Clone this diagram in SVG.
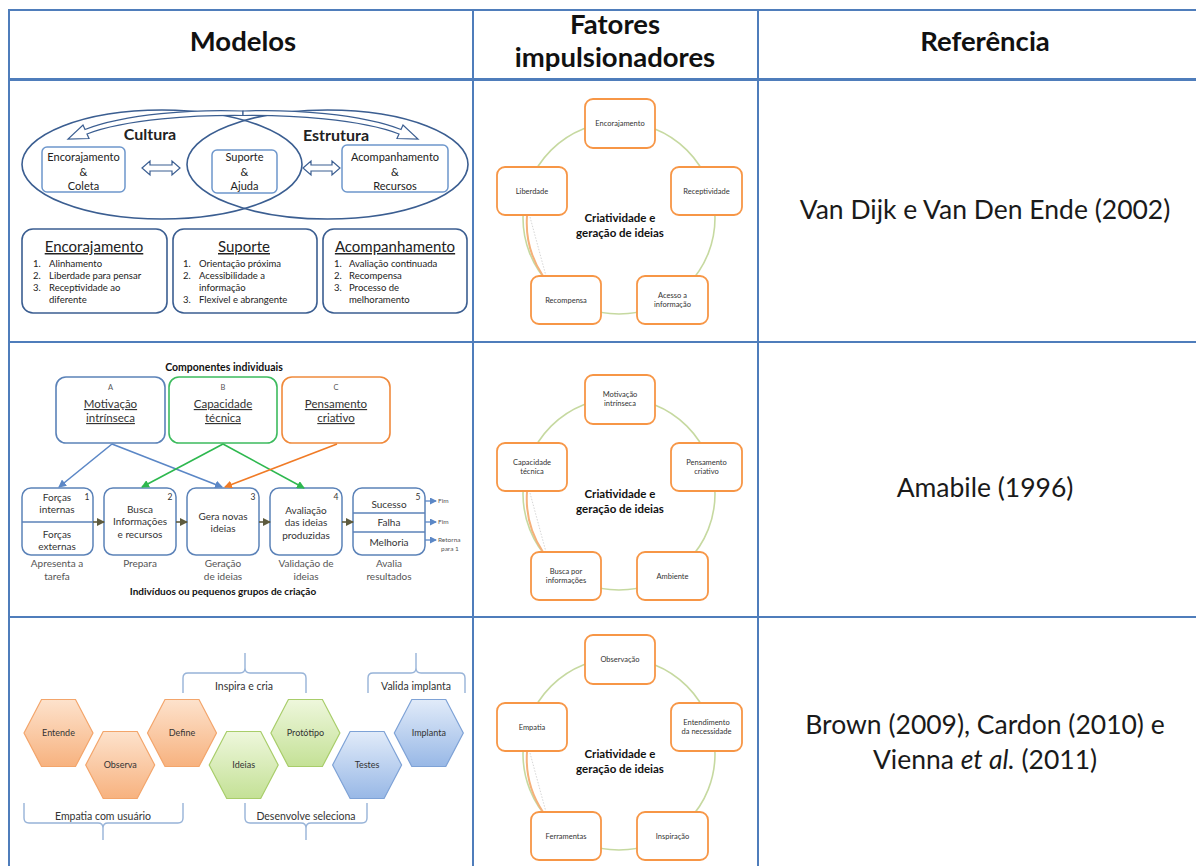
<svg xmlns="http://www.w3.org/2000/svg" width="1196" height="866" viewBox="0 0 1196 866">
  <defs>
    <style>
      text { font-family: Lato, "Liberation Sans", sans-serif; fill: #222; }
      .hdr { font-size: 27.5px; font-weight: bold; text-anchor: middle; fill: #111; }
      .ref { font-size: 26.5px; text-anchor: middle; fill: #1a1a1a; }
      .grid { stroke: #4f7dbb; stroke-width: 2; fill: none; }
      .ell { fill: none; stroke: #3b5e91; stroke-width: 1.6; }
      .sbox { fill: #fff; stroke: #6e97cc; stroke-width: 1.5; }
      .bbox { fill: #fff; stroke: #3b5e91; stroke-width: 1.6; }
      .blk { fill: #fff; stroke: #3b5e91; stroke-width: 1.2; }
      .t11 { font-size: 11px; text-anchor: middle; }
      .ttl { font-size: 15px; text-anchor: middle; text-decoration: underline; }
      .itm { font-size: 9.5px; }
      .fbox { fill: #fff; stroke: #f79646; stroke-width: 1.8; }
      .ring { fill: none; stroke: #c6d9a0; stroke-width: 1.6; }
      .ringo { fill: none; stroke: #f5b07a; stroke-width: 2; }
      .flab { font-size: 7.5px; text-anchor: middle; fill: #333; }
      .fcen { font-size: 11.5px; font-weight: bold; text-anchor: middle; fill: #111; }
      .cA { fill: #fff; stroke: #5b82b8; stroke-width: 1.6; }
      .cB { fill: #fff; stroke: #3dbb5e; stroke-width: 1.6; }
      .cC { fill: #fff; stroke: #f08a3c; stroke-width: 1.6; }
      .pbox { fill: #fff; stroke: #5b82b8; stroke-width: 1.5; }
      .div { stroke: #5b82b8; stroke-width: 1.5; }
      .ctl { font-size: 11.5px; text-anchor: middle; text-decoration: underline; fill: #333; }
      .let { font-size: 7.5px; text-anchor: middle; fill: #555; }
      .num { font-size: 8.5px; text-anchor: middle; fill: #333; }
      .pt { font-size: 10px; text-anchor: middle; fill: #333; }
      .cap { font-size: 10px; text-anchor: middle; fill: #555; }
      .out { font-size: 6.5px; fill: #555; }
      .bold { font-weight: bold; fill: #111; }
      .hexO { fill: url(#gO); stroke: #f3a56b; stroke-width: 1.2; }
      .hexG { fill: url(#gG); stroke: #a8cd6a; stroke-width: 1.2; }
      .hexB { fill: url(#gB); stroke: #7ea2d6; stroke-width: 1.2; }
      .hl { font-size: 9px; text-anchor: middle; fill: #333; }
      .brace { fill: none; stroke: #97b3d8; stroke-width: 1.4; }
      .bl { font-size: 10.5px; text-anchor: middle; fill: #333; }
    </style>
    <linearGradient id="gO" x1="0" y1="0" x2="0" y2="1">
      <stop offset="0" stop-color="#fde2cc"/>
      <stop offset="1" stop-color="#f7b27f"/>
    </linearGradient>
    <linearGradient id="gG" x1="0" y1="0" x2="0" y2="1">
      <stop offset="0" stop-color="#eef7dc"/>
      <stop offset="1" stop-color="#c4e196"/>
    </linearGradient>
    <linearGradient id="gB" x1="0" y1="0" x2="0" y2="1">
      <stop offset="0" stop-color="#e1ebf9"/>
      <stop offset="1" stop-color="#98b8e6"/>
    </linearGradient>
    <marker id="mBlue" markerWidth="8" markerHeight="8" refX="7" refY="4" orient="auto" markerUnits="userSpaceOnUse">
      <path d="M0,0 L8,4 L0,8 Z" fill="#5b87c6"/>
    </marker>
    <marker id="mGreen" markerWidth="8" markerHeight="8" refX="7" refY="4" orient="auto" markerUnits="userSpaceOnUse">
      <path d="M0,0 L8,4 L0,8 Z" fill="#2eb84f"/>
    </marker>
    <marker id="mOrange" markerWidth="8" markerHeight="8" refX="7" refY="4" orient="auto" markerUnits="userSpaceOnUse">
      <path d="M0,0 L8,4 L0,8 Z" fill="#f07b26"/>
    </marker>
    <marker id="mOlive" markerWidth="8" markerHeight="8" refX="7" refY="4" orient="auto" markerUnits="userSpaceOnUse">
      <path d="M0,0 L8,4 L0,8 Z" fill="#5e5b3e"/>
    </marker>
    <marker id="mSmall" markerWidth="7" markerHeight="7" refX="6" refY="3.5" orient="auto" markerUnits="userSpaceOnUse">
      <path d="M0,0 L7,3.5 L0,7 Z" fill="#5b87c6"/>
    </marker>
    <!-- the five-box ring used in the middle column -->
    <g id="ringBase">
      <circle class="ring" cx="619" cy="218" r="96"/>
      <path class="ringo" d="M527,216 A96,96 0 0 0 543,276"/>
      <line x1="530" y1="217" x2="546" y2="276" stroke="#bbb" stroke-width="0.6" stroke-dasharray="1.5,1.5"/>
      <rect class="fbox" x="585" y="99" width="70" height="49" rx="8"/>
      <rect class="fbox" x="671" y="167" width="71" height="48" rx="8"/>
      <rect class="fbox" x="637" y="276" width="71" height="48" rx="8"/>
      <rect class="fbox" x="531" y="276" width="70" height="48" rx="8"/>
      <rect class="fbox" x="497" y="167" width="70" height="48" rx="8"/>
      <text class="fcen" x="620" y="222">Criatividade e</text>
      <text class="fcen" x="620" y="237">geração de ideias</text>
    </g>
  </defs>

  <rect width="1196" height="866" fill="#fff"/>

  <!-- table grid -->
  <g id="table">
    <line class="grid" x1="9" y1="10" x2="1196" y2="10"/>
    <line class="grid" x1="9" y1="9" x2="9" y2="866"/>
    <line class="grid" x1="473" y1="10" x2="473" y2="866"/>
    <line class="grid" x1="758" y1="10" x2="758" y2="866"/>
    <line x1="9" y1="79.5" x2="1196" y2="79.5" stroke="#4f7dbb" stroke-width="3"/>
    <line class="grid" x1="9" y1="342" x2="1196" y2="342"/>
    <line class="grid" x1="9" y1="617" x2="1196" y2="617"/>
  </g>

  <!-- column headers -->
  <g id="headers">
    <text class="hdr" x="243" y="51">Modelos</text>
    <text class="hdr" x="615" y="34">Fatores</text>
    <text class="hdr" x="615" y="67">impulsionadores</text>
    <text class="hdr" x="985" y="51">Referência</text>
  </g>

  <!-- references -->
  <g id="references">
    <text class="ref" x="985" y="219">Van Dijk e Van Den Ende (2002)</text>
    <text class="ref" x="985" y="497">Amabile (1996)</text>
    <text class="ref" x="985" y="734">Brown (2009), Cardon (2010) e</text>
    <text class="ref" x="985" y="769">Vienna <tspan font-style="italic">et al.</tspan> (2011)</text>
  </g>

  <!-- ===== Row 1: culture / structure model ===== -->
  <g id="model-cultura">
    <ellipse class="ell" cx="162" cy="164.5" rx="140" ry="54.5"/>
    <ellipse class="ell" cx="327.5" cy="164.5" rx="140.5" ry="54.5"/>
    <path class="blk" d="M243,111 C195,109 125,114 85,129.5 L83,125 L68,139 L89,138.5 L87,134 C126,119 196,115 243,115.5 Z"/>
    <path class="blk" d="M243,111 C291,109 361,114 401,129.5 L403,125 L418,139 L397,138.5 L399,134 C360,119 290,115 243,115.5 Z"/>
    <text x="150" y="140" font-size="16" font-weight="bold" text-anchor="middle" fill="#111">Cultura</text>
    <text x="336" y="141" font-size="16" font-weight="bold" text-anchor="middle" fill="#111">Estrutura</text>
    <path class="blk" d="M142,168 L150,161 L150,165 L172,165 L172,161 L180,168 L172,175 L172,171 L150,171 L150,175 Z"/>
    <path class="blk" d="M303,168 L311,161 L311,165 L332,165 L332,161 L340,168 L332,175 L332,171 L311,171 L311,175 Z"/>
  </g>
  <g id="box-encorajamento-coleta">
    <rect class="sbox" x="42" y="147" width="83" height="45" rx="5"/>
    <text class="t11" x="83.5" y="161">Encorajamento</text>
    <text class="t11" x="83.5" y="176">&amp;</text>
    <text class="t11" x="83.5" y="190">Coleta</text>
  </g>
  <g id="box-suporte-ajuda">
    <rect class="sbox" x="212" y="150" width="65" height="43" rx="5"/>
    <text class="t11" x="244.5" y="161">Suporte</text>
    <text class="t11" x="244.5" y="176">&amp;</text>
    <text class="t11" x="244.5" y="190">Ajuda</text>
  </g>
  <g id="box-acompanhamento-recursos">
    <rect class="sbox" x="342" y="145" width="106" height="47" rx="5"/>
    <text class="t11" x="395" y="161">Acompanhamento</text>
    <text class="t11" x="395" y="176">&amp;</text>
    <text class="t11" x="395" y="190">Recursos</text>
  </g>
  <g id="list-encorajamento">
    <rect class="bbox" x="22" y="229" width="145" height="84" rx="11"/>
    <text class="ttl" x="94" y="252">Encorajamento</text>
    <text class="itm" x="33" y="266.5">1.</text><text class="itm" x="49" y="266.5">Alinhamento</text>
    <text class="itm" x="33" y="278.5">2.</text><text class="itm" x="49" y="278.5">Liberdade para pensar</text>
    <text class="itm" x="33" y="290.5">3.</text><text class="itm" x="49" y="290.5">Receptividade ao</text>
    <text class="itm" x="49" y="303">diferente</text>
  </g>
  <g id="list-suporte">
    <rect class="bbox" x="173" y="229" width="144" height="84" rx="11"/>
    <text class="ttl" x="244" y="252">Suporte</text>
    <text class="itm" x="183" y="266.5">1.</text><text class="itm" x="199" y="266.5">Orientação próxima</text>
    <text class="itm" x="183" y="278.5">2.</text><text class="itm" x="199" y="278.5">Acessibilidade a</text>
    <text class="itm" x="199" y="290.5">informação</text>
    <text class="itm" x="183" y="303">3.</text><text class="itm" x="199" y="303">Flexível e abrangente</text>
  </g>
  <g id="list-acompanhamento">
    <rect class="bbox" x="323" y="229" width="144" height="84" rx="11"/>
    <text class="ttl" x="395" y="252">Acompanhamento</text>
    <text class="itm" x="334" y="266.5">1.</text><text class="itm" x="349" y="266.5">Avaliação continuada</text>
    <text class="itm" x="334" y="278.5">2.</text><text class="itm" x="349" y="278.5">Recompensa</text>
    <text class="itm" x="334" y="290.5">3.</text><text class="itm" x="349" y="290.5">Processo de</text>
    <text class="itm" x="349" y="303">melhoramento</text>
  </g>

  <!-- ===== Middle column rings ===== -->
  <g id="ring-1">
    <use href="#ringBase"/>
    <text class="flab" x="620" y="126">Encorajamento</text>
    <text class="flab" x="706.5" y="194">Receptividade</text>
    <text class="flab" x="672.5" y="298">Acesso a</text>
    <text class="flab" x="672.5" y="307">informação</text>
    <text class="flab" x="566" y="303">Recompensa</text>
    <text class="flab" x="532" y="194">Liberdade</text>
  </g>
  <g id="ring-2" transform="translate(0,276)">
    <use href="#ringBase"/>
    <text class="flab" x="620" y="121">Motivação</text>
    <text class="flab" x="620" y="130">intrínseca</text>
    <text class="flab" x="706.5" y="189">Pensamento</text>
    <text class="flab" x="706.5" y="198">criativo</text>
    <text class="flab" x="672.5" y="303">Ambiente</text>
    <text class="flab" x="566" y="298">Busca por</text>
    <text class="flab" x="566" y="307">informações</text>
    <text class="flab" x="532" y="189">Capacidade</text>
    <text class="flab" x="532" y="198">técnica</text>
  </g>
  <g id="ring-3" transform="translate(0,536)">
    <use href="#ringBase"/>
    <text class="flab" x="620" y="126">Observação</text>
    <text class="flab" x="706.5" y="189">Entendimento</text>
    <text class="flab" x="706.5" y="198">da necessidade</text>
    <text class="flab" x="672.5" y="303">Inspiração</text>
    <text class="flab" x="566" y="303">Ferramentas</text>
    <text class="flab" x="532" y="194">Empatia</text>
  </g>

  <!-- ===== Row 2: componential model ===== -->
  <text class="bold" x="224" y="371" font-size="10.5" text-anchor="middle">Componentes individuais</text>
  <g id="comp-a">
    <rect class="cA" x="56" y="377" width="109" height="66" rx="10"/>
    <text class="let" x="110.5" y="390">A</text>
    <text class="ctl" x="110.5" y="408">Motivação</text>
    <text class="ctl" x="110.5" y="422">intrínseca</text>
  </g>
  <g id="comp-b">
    <rect class="cB" x="169" y="377" width="108" height="66" rx="10"/>
    <text class="let" x="223" y="390">B</text>
    <text class="ctl" x="223" y="408">Capacidade</text>
    <text class="ctl" x="223" y="422">técnica</text>
  </g>
  <g id="comp-c">
    <rect class="cC" x="282" y="377" width="108" height="66" rx="10"/>
    <text class="let" x="336" y="390">C</text>
    <text class="ctl" x="336" y="408">Pensamento</text>
    <text class="ctl" x="336" y="422">criativo</text>
  </g>
  <g id="step-1">
    <rect class="pbox" x="22" y="488" width="71" height="67" rx="9"/>
    <line class="div" x1="22" y1="522" x2="93" y2="522"/>
    <text class="num" x="87" y="500">1</text>
    <text class="pt" x="57" y="500.5">Forças</text>
    <text class="pt" x="57" y="512.5">internas</text>
    <text class="pt" x="57" y="537.5">Forças</text>
    <text class="pt" x="57" y="550">externas</text>
  </g>
  <g id="step-2">
    <rect class="pbox" x="104" y="488" width="72" height="67" rx="9"/>
    <text class="num" x="170" y="500">2</text>
    <text class="pt" x="140" y="512.5">Busca</text>
    <text class="pt" x="140" y="525">Informações</text>
    <text class="pt" x="140" y="537.5">e recursos</text>
  </g>
  <g id="step-3">
    <rect class="pbox" x="187" y="488" width="72" height="67" rx="9"/>
    <text class="num" x="253" y="500">3</text>
    <text class="pt" x="223" y="519.5">Gera novas</text>
    <text class="pt" x="223" y="532">ideias</text>
  </g>
  <g id="step-4">
    <rect class="pbox" x="270" y="488" width="72" height="67" rx="9"/>
    <text class="num" x="336" y="500">4</text>
    <text class="pt" x="306" y="513.5">Avaliação</text>
    <text class="pt" x="306" y="526">das ideias</text>
    <text class="pt" x="306" y="538.5">produzidas</text>
  </g>
  <g id="step-5">
    <rect class="pbox" x="353" y="488" width="72" height="67" rx="9"/>
    <line class="div" x1="353" y1="513" x2="425" y2="513"/>
    <line class="div" x1="353" y1="532" x2="425" y2="532"/>
    <text class="num" x="418" y="500">5</text>
    <text class="pt" x="389" y="507.5">Sucesso</text>
    <text class="pt" x="389" y="526">Falha</text>
    <text class="pt" x="389" y="545.5">Melhoria</text>
    <text class="out" x="438" y="503">Fim</text>
    <text class="out" x="438" y="524">Fim</text>
    <text class="out" x="438" y="542">Retorna</text>
    <text class="out" x="441" y="551">para 1</text>
  </g>
  <g id="step-captions">
    <text class="cap" x="57" y="566.5">Apresenta a</text>
    <text class="cap" x="57" y="580">tarefa</text>
    <text class="cap" x="140" y="566.5">Prepara</text>
    <text class="cap" x="223" y="566.5">Geração</text>
    <text class="cap" x="223" y="580">de ideias</text>
    <text class="cap" x="306" y="566.5">Validação de</text>
    <text class="cap" x="306" y="580">ideias</text>
    <text class="cap" x="389" y="566.5">Avalia</text>
    <text class="cap" x="389" y="580">resultados</text>
    <text class="bold" x="223" y="595" font-size="10" text-anchor="middle">Indivíduos ou pequenos grupos de criação</text>
  </g>

  <!-- connectors of the componential model -->
  <g id="connectors" fill="none" stroke-width="1.6">
    <line x1="112" y1="444" x2="59" y2="487" stroke="#5b87c6" marker-end="url(#mBlue)"/>
    <line x1="112" y1="444" x2="222" y2="487" stroke="#5b87c6" marker-end="url(#mBlue)"/>
    <line x1="223" y1="444" x2="142" y2="487" stroke="#2eb84f" marker-end="url(#mGreen)"/>
    <line x1="223" y1="444" x2="304" y2="488" stroke="#2eb84f" marker-end="url(#mGreen)"/>
    <line x1="337" y1="444" x2="225" y2="487" stroke="#f07b26" marker-end="url(#mOrange)"/>
    <line x1="93" y1="522" x2="104" y2="522" stroke="#5e5b3e" marker-end="url(#mOlive)"/>
    <line x1="176" y1="522" x2="187" y2="522" stroke="#5e5b3e" marker-end="url(#mOlive)"/>
    <line x1="259" y1="522" x2="270" y2="522" stroke="#5e5b3e" marker-end="url(#mOlive)"/>
    <line x1="342" y1="522" x2="353" y2="522" stroke="#5e5b3e" marker-end="url(#mOlive)"/>
    <line x1="425" y1="501" x2="436" y2="501" stroke="#5b87c6" stroke-width="1.3" marker-end="url(#mSmall)"/>
    <line x1="425" y1="522" x2="436" y2="522" stroke="#5b87c6" stroke-width="1.3" marker-end="url(#mSmall)"/>
    <line x1="425" y1="540" x2="436" y2="540" stroke="#5b87c6" stroke-width="1.3" marker-end="url(#mSmall)"/>
  </g>

  <!-- ===== Row 3: design thinking hexagons ===== -->
  <g id="braces">
    <path class="brace" d="M183,693 V678 Q183,673 188,673 H240 Q245,673 245,668 V653 M245,668 Q245,673 250,673 H301 Q306,673 306,678 V693"/>
    <text class="bl" x="244" y="690">Inspira e cria</text>
    <path class="brace" d="M368,693 V678 Q368,673 373,673 H411 Q416,673 416,668 V653 M416,668 Q416,673 421,673 H460 Q465,673 465,678 V693"/>
    <text class="bl" x="416" y="690">Valida implanta</text>
    <path class="brace" d="M24,803 V818 Q24,823 29,823 H98 Q103,823 103,828 V840 M103,828 Q103,823 108,823 H178 Q183,823 183,818 V803"/>
    <text class="bl" x="103" y="820">Empatia com usuário</text>
    <path class="brace" d="M245,803 V818 Q245,823 250,823 H301 Q306,823 306,828 V840 M306,828 Q306,823 311,823 H362 Q367,823 367,818 V803"/>
    <text class="bl" x="306" y="820">Desenvolve seleciona</text>
  </g>
  <g id="hex-entende">
    <polygon class="hexO" points="24,733 41.5,699.5 75.5,699.5 93,733 75.5,766.5 41.5,766.5"/>
    <text class="hl" x="58.5" y="736">Entende</text>
  </g>
  <g id="hex-observa">
    <polygon class="hexO" points="85.7,765 103.2,731.5 137.2,731.5 154.7,765 137.2,798.5 103.2,798.5"/>
    <text class="hl" x="120.2" y="768">Observa</text>
  </g>
  <g id="hex-define">
    <polygon class="hexO" points="147.5,733 165,699.5 199,699.5 216.5,733 199,766.5 165,766.5"/>
    <text class="hl" x="182" y="736">Define</text>
  </g>
  <g id="hex-ideias">
    <polygon class="hexG" points="209.2,765 226.7,731.5 260.7,731.5 278.2,765 260.7,798.5 226.7,798.5"/>
    <text class="hl" x="243.7" y="768">Ideias</text>
  </g>
  <g id="hex-prototipo">
    <polygon class="hexG" points="270.9,733 288.4,699.5 322.4,699.5 339.9,733 322.4,766.5 288.4,766.5"/>
    <text class="hl" x="305.4" y="735.5" font-size="7.5">Protótipo</text>
  </g>
  <g id="hex-testes">
    <polygon class="hexB" points="332.6,765 350.1,731.5 384.1,731.5 401.6,765 384.1,798.5 350.1,798.5"/>
    <text class="hl" x="367.1" y="768">Testes</text>
  </g>
  <g id="hex-implanta">
    <polygon class="hexB" points="394.3,733 411.8,699.5 445.8,699.5 463.3,733 445.8,766.5 411.8,766.5"/>
    <text class="hl" x="428.8" y="736">Implanta</text>
  </g>
</svg>
